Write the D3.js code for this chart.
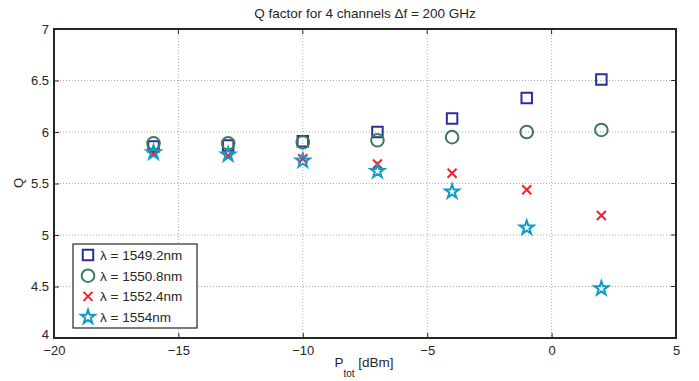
<!DOCTYPE html>
<html>
<head>
<meta charset="utf-8">
<script src="https://cdn.jsdelivr.net/npm/d3@7"></script>
<style>
body { margin: 0; background: #fff; }
text { font-family: "Liberation Sans", Arial, sans-serif; fill: #262626; }
</style>
</head>
<body>
<script>
var w = 699;
var h = 381;

// data
var power = [-16, -13, -10, -7, -4, -1, 2];
var q1549 = [5.86, 5.87, 5.91, 6.00, 6.13, 6.33, 6.51];
var q1550 = [5.89, 5.89, 5.90, 5.92, 5.95, 6.00, 6.02];
var q1552 = [5.79, 5.77, 5.74, 5.69, 5.60, 5.44, 5.19];
var q1554 = [5.80, 5.78, 5.72, 5.62, 5.42, 5.07, 4.48];
var seriesNames = ["\u03bb = 1549.2nm", "\u03bb = 1550.8nm", "\u03bb = 1552.4nm", "\u03bb = 1554nm"];
var xTicks = [-20, -15, -10, -5, 0, 5];
var yTicks = [4, 4.5, 5, 5.5, 6, 6.5, 7];

var series = [
    { name: seriesNames[0], values: q1549, marker: "square", color: "#2e2e9a" },
    { name: seriesNames[1], values: q1550, marker: "circle", color: "#3d7a5c" },
    { name: seriesNames[2], values: q1552, marker: "cross", color: "#f0202c" },
    { name: seriesNames[3], values: q1554, marker: "star", color: "#0f9acb" }
];

// plot box (note: "top" is reserved on window, so use pTop etc.)
var pLeft = 54, pRight = 676, pTop = 29, pBottom = 338;

var x = d3.scaleLinear().domain([-20, 5]).range([pLeft, pRight]);
var y = d3.scaleLinear().domain([4, 7]).range([pBottom, pTop]);

var svg = d3.select("body")
    .append("svg")
    .attr("width", w)
    .attr("height", h);

// grid
svg.append("g")
    .selectAll("line")
    .data(xTicks.slice(1, -1))
    .enter()
    .append("line")
    .attr("x1", d => x(d)).attr("x2", d => x(d))
    .attr("y1", pTop).attr("y2", pBottom)
    .attr("stroke", "#aaa")
    .attr("stroke-dasharray", "1,2");

svg.append("g")
    .selectAll("line")
    .data(yTicks.slice(1, -1))
    .enter()
    .append("line")
    .attr("y1", d => y(d)).attr("y2", d => y(d))
    .attr("x1", pLeft).attr("x2", pRight)
    .attr("stroke", "#aaa")
    .attr("stroke-dasharray", "1,2");

// axes, ticks inward
var xAxis = d3.axisBottom(x).tickValues(xTicks).tickSizeInner(-5).tickSizeOuter(0)
    .tickFormat(d => d < 0 ? "\u2212" + Math.abs(d) : d);
var yAxis = d3.axisLeft(y).tickValues(yTicks).tickSizeInner(-5).tickSizeOuter(0)
    .tickFormat(d3.format("~g"));

var gx = svg.append("g").attr("transform", "translate(0," + pBottom + ")").call(xAxis);
var gy = svg.append("g").attr("transform", "translate(" + pLeft + ",0)").call(yAxis);

gx.selectAll("text").attr("dy", null).attr("y", 17).style("font-size", "13px");
gy.selectAll("text").attr("x", -5).style("font-size", "13px");
gx.select(".domain").remove();
gy.select(".domain").remove();
svg.selectAll(".tick line").attr("stroke", "#262626");
svg.selectAll(".tick text").attr("fill", "#262626").style("font-family", "'Liberation Sans', Arial, sans-serif");
gy.selectAll(".tick").filter(d => d === 4).select("text").attr("y", -4);

// mirrored ticks on top and right
svg.append("g").selectAll("line").data(xTicks).enter().append("line")
    .attr("x1", d => x(d)).attr("x2", d => x(d))
    .attr("y1", pTop).attr("y2", pTop + 5)
    .attr("stroke", "#262626");
svg.append("g").selectAll("line").data(yTicks).enter().append("line")
    .attr("y1", d => y(d)).attr("y2", d => y(d))
    .attr("x1", pRight).attr("x2", pRight - 5)
    .attr("stroke", "#262626");

// frame
svg.append("rect")
    .attr("x", pLeft).attr("y", pTop)
    .attr("width", pRight - pLeft).attr("height", pBottom - pTop)
    .attr("fill", "none")
    .attr("stroke", "#262626")
    .attr("stroke-width", 2);

// markers
function markerPath(type) {
    if (type === "square") return d3.symbol(d3.symbolSquare, 110)();
    if (type === "circle") return d3.symbol(d3.symbolCircle, 125)();
    if (type === "star") return d3.symbol(d3.symbolStar, 60)();
    return "M-4.5,-4.5L4.5,4.5M-4.5,4.5L4.5,-4.5";
}

series.forEach(function (s) {
    svg.append("g")
        .selectAll("path")
        .data(s.values)
        .enter()
        .append("path")
        .attr("d", markerPath(s.marker))
        .attr("transform", (d, i) => "translate(" + x(power[i]) + "," + y(d) + ")")
        .attr("fill", "none")
        .attr("stroke", s.color)
        .attr("stroke-width", 2);
});

// title and labels
svg.append("text")
    .attr("x", (pLeft + pRight) / 2)
    .attr("y", 18)
    .attr("text-anchor", "middle")
    .style("font-size", "13.5px")
    .text("Q factor for 4 channels \u0394f = 200 GHz");

var xl = svg.append("text")
    .attr("x", 364)
    .attr("y", 367)
    .attr("text-anchor", "middle")
    .style("font-size", "13.5px");
xl.append("tspan").text("P");
xl.append("tspan").attr("dy", 10).style("font-size", "10px").text("tot");
xl.append("tspan").attr("dy", -10).text(" [dBm]");

svg.append("text")
    .attr("transform", "translate(23,183) rotate(-90)")
    .attr("text-anchor", "middle")
    .style("font-size", "13px")
    .text("Q");

// legend
var legend = svg.append("g");
legend.append("rect")
    .attr("x", 73).attr("y", 244)
    .attr("width", 124).attr("height", 84)
    .attr("fill", "#fff")
    .attr("stroke", "#262626")
    .attr("stroke-width", 1.2);

var items = legend.selectAll("g")
    .data(series)
    .enter()
    .append("g")
    .attr("transform", (d, i) => "translate(88," + (255 + i * 20.7) + ")");

items.append("path")
    .attr("d", d => markerPath(d.marker))
    .attr("fill", "none")
    .attr("stroke", d => d.color)
    .attr("stroke-width", 2);

items.append("text")
    .attr("x", 12)
    .attr("y", 5)
    .style("font-size", "13.5px")
    .text(d => d.name);
</script>
</body>
</html>
